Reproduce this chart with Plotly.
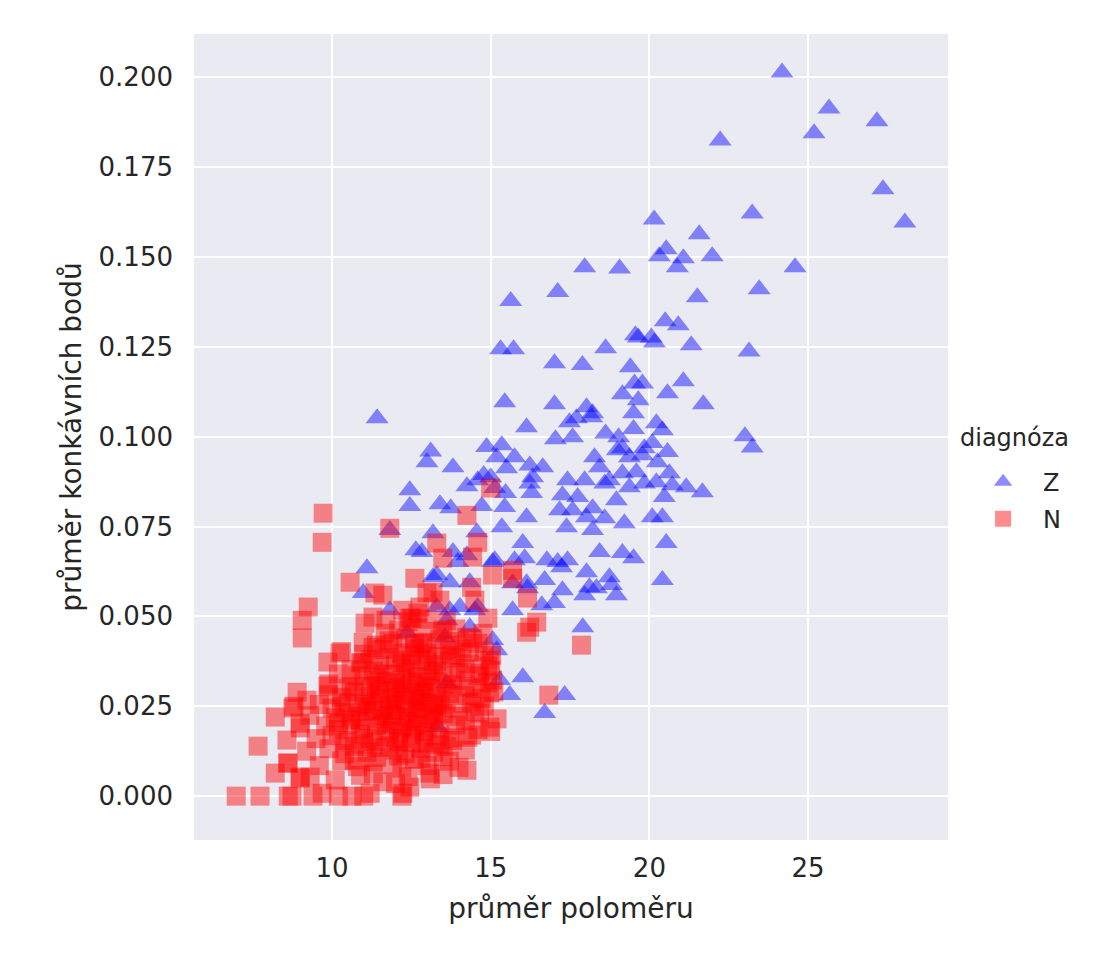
import plotly.graph_objects as go

# průměr poloměru / průměr konkávních bodů
z_points = [
    (24.18, 0.2013), (25.66, 0.1913), (25.19, 0.1844), (27.17, 0.1877), (27.36, 0.1688),
    (28.05, 0.1596), (22.23, 0.1824), (23.24, 0.1621), (24.59, 0.1471), (23.46, 0.1410),
    (23.14, 0.1237), (23.01, 0.1001), (23.24, 0.0970), (20.15, 0.1604), (21.57, 0.1563),
    (20.53, 0.1521), (20.31, 0.1502), (21.07, 0.1496), (20.88, 0.1471), (21.98, 0.1502),
    (17.96, 0.1471), (19.06, 0.1468), (21.51, 0.1388), (17.11, 0.1402), (15.63, 0.1377),
    (20.50, 0.1321), (20.91, 0.1310), (19.56, 0.1282), (19.65, 0.1276), (20.06, 0.1276),
    (20.16, 0.1262), (21.32, 0.1254), (15.31, 0.1243), (15.72, 0.1243), (18.62, 0.1246),
    (17.01, 0.1204), (17.89, 0.1199), (19.40, 0.1193), (21.07, 0.1154), (19.53, 0.1148),
    (19.78, 0.1148), (19.15, 0.1118), (20.57, 0.1121), (19.65, 0.1101), (15.44, 0.1096),
    (17.01, 0.1090), (21.70, 0.1090), (18.02, 0.1082), (19.50, 0.1065), (18.21, 0.1065),
    (16.13, 0.1026), (20.22, 0.1037), (20.41, 0.1018), (18.62, 0.1009), (19.03, 0.0998),
    (19.50, 0.1021), (17.04, 0.0993), (17.58, 0.0998), (17.48, 0.1040), (17.70, 0.1051),
    (18.18, 0.1054), (15.35, 0.0976), (15.75, 0.0943), (15.19, 0.0943), (16.23, 0.0920),
    (16.64, 0.0915), (15.50, 0.0912), (16.32, 0.0887), (16.23, 0.0870), (16.29, 0.0843),
    (17.42, 0.0879), (17.96, 0.0879), (18.27, 0.0943), (18.43, 0.0915), (18.59, 0.0870),
    (18.74, 0.0879), (18.99, 0.0962), (19.15, 0.0968), (19.37, 0.0943), (19.78, 0.0948),
    (19.84, 0.0968), (20.09, 0.0982), (20.57, 0.0957), (20.25, 0.0929), (19.15, 0.0898),
    (19.59, 0.0901), (19.37, 0.0859), (19.84, 0.0870), (20.22, 0.0873), (20.63, 0.0898),
    (20.72, 0.0865), (21.16, 0.0859), (21.67, 0.0845), (20.47, 0.0832), (17.26, 0.0837),
    (17.74, 0.0832), (18.96, 0.0823), (17.17, 0.0795), (17.58, 0.0795), (18.21, 0.0801),
    (18.02, 0.0776), (18.59, 0.0773), (16.13, 0.0776), (17.39, 0.0748), (18.21, 0.0740),
    (19.21, 0.0759), (20.09, 0.0776), (20.41, 0.0776), (15.35, 0.0748), (16.01, 0.0704),
    (20.53, 0.0704), (18.43, 0.0679), (19.15, 0.0676), (19.50, 0.0662), (16.77, 0.0656),
    (17.11, 0.0651), (17.42, 0.0656), (17.23, 0.0637), (15.13, 0.0656), (16.07, 0.0662),
    (15.75, 0.0656), (18.02, 0.0623), (18.74, 0.0609), (20.41, 0.0601), (16.70, 0.0601),
    (17.26, 0.0573), (18.11, 0.0581), (18.33, 0.0578), (18.81, 0.0587), (16.13, 0.0592),
    (17.96, 0.0559), (18.96, 0.0559), (16.61, 0.0531), (17.01, 0.0537), (15.69, 0.0517),
    (17.90, 0.0470), (15.06, 0.0434), (15.19, 0.0406), (16.01, 0.0331), (15.60, 0.0281),
    (17.33, 0.0281), (16.70, 0.0231), (11.42, 0.1051), (14.87, 0.0971), (13.11, 0.0959),
    (12.99, 0.0929), (13.81, 0.0915), (14.78, 0.0893), (14.59, 0.0879), (14.25, 0.0862),
    (15.47, 0.0843), (15.00, 0.0887), (15.13, 0.0857), (12.45, 0.0851), (12.45, 0.0807),
    (13.40, 0.0812), (13.74, 0.0801), (14.72, 0.0807), (15.44, 0.0804), (11.82, 0.0740),
    (13.18, 0.0731), (14.56, 0.0734), (12.64, 0.0684), (12.83, 0.0679), (13.81, 0.0679),
    (13.96, 0.0651), (14.25, 0.0670), (15.06, 0.0651), (11.10, 0.0634), (13.30, 0.0615),
    (13.71, 0.0595), (14.34, 0.0595), (15.69, 0.0592), (16.16, 0.0578), (10.98, 0.0565),
    (11.82, 0.0517), (13.71, 0.0517), (14.03, 0.0526), (14.59, 0.0526), (12.36, 0.0453),
    (13.55, 0.0442), (15.28, 0.0323), (13.33, 0.0192), (13.62, 0.0314), (13.18, 0.0609),
    (13.30, 0.0526), (13.62, 0.0489), (14.50, 0.0517), (14.34, 0.0470),
]

n_points = [
    # okrajové body
    (9.72, 0.0787), (9.69, 0.0706), (10.57, 0.0595), (9.25, 0.0526), (9.06, 0.0489),
    (9.06, 0.0440), (10.25, 0.0398), (9.87, 0.0373), (11.04, 0.0481), (10.98, 0.0428),
    (10.94, 0.0370), (9.87, 0.0306), (8.90, 0.0289), (8.21, 0.0220), (8.77, 0.0245),
    (7.67, 0.0139), (8.58, 0.0156), (8.99, 0.0203), (8.62, 0.0092), (8.21, 0.0064),
    (8.99, 0.0053), (6.98, 0.0), (7.73, 0.0), (8.62, 0.0), (8.74, 0.0), (9.40, 0.0),
    (9.69, 0.0008), (10.63, 0.0), (9.31, 0.0053), (9.21, 0.0267), (10.2, 0.0), (11.0, 0.0),
    (12.2, 0.0), (14.25, 0.0781), (11.82, 0.0745), (14.59, 0.0706), (13.30, 0.0704),
    (13.49, 0.0662), (14.43, 0.0665), (15.06, 0.0615), (15.69, 0.0606), (15.69, 0.0628),
    (12.61, 0.0606), (14.40, 0.0581), (13.18, 0.0567), (16.16, 0.0551), (14.50, 0.0545),
    (13.40, 0.0545), (12.71, 0.0509), (12.52, 0.0495), (14.91, 0.0495), (16.45, 0.0484),
    (16.13, 0.0456), (16.23, 0.0470), (17.86, 0.0420), (14.43, 0.0439), (12.77, 0.0414),
    (13.77, 0.0392), (14.34, 0.0400), (15.03, 0.0392), (16.83, 0.0281), (15.00, 0.0857),
    (11.35, 0.0565), (11.60, 0.0559), (12.99, 0.0565), (12.77, 0.0526), (12.23, 0.0517),
    (12.45, 0.0495), (11.29, 0.0498), (11.67, 0.0453), (11.29, 0.0414), (11.92, 0.0425),
    (12.86, 0.0425), (13.49, 0.0462), (14.25, 0.0442), (14.75, 0.0453), (14.97, 0.0378),
    (14.65, 0.0342), (15.06, 0.0323), (14.97, 0.0287), (14.65, 0.0231), (14.97, 0.0192),
    (14.28, 0.0164), (14.25, 0.0072), (13.08, 0.0064), (12.45, 0.0025), (12.23, 0.0008),
    (11.20, 0.0008),
    # hustý shluk
    (9.0, 0.0050), (10.1, 0.0045), (10.9, 0.0058), (11.6, 0.0040), (12.4, 0.0055),
    (13.1, 0.0048), (13.5, 0.0060), (12.0, 0.0035), (11.3, 0.0062),
    (8.6, 0.0092), (9.6, 0.0085), (10.3, 0.0098), (10.8, 0.0082), (11.3, 0.0095),
    (11.9, 0.0088), (12.6, 0.0102), (13.0, 0.0085), (13.7, 0.0097), (14.0, 0.0080),
    (12.2, 0.0078),
    (9.2, 0.0125), (9.9, 0.0132), (10.4, 0.0118), (10.7, 0.0138), (11.1, 0.0122),
    (11.5, 0.0135), (12.0, 0.0128), (12.3, 0.0118), (12.8, 0.0133), (13.2, 0.0122),
    (13.6, 0.0138), (14.2, 0.0128),
    (9.5, 0.0160), (10.0, 0.0168), (10.5, 0.0155), (10.9, 0.0172), (11.2, 0.0160),
    (11.7, 0.0165), (12.1, 0.0152), (12.5, 0.0170), (12.9, 0.0158), (13.3, 0.0166),
    (13.8, 0.0155), (14.4, 0.0170),
    (9.0, 0.0190), (9.8, 0.0195), (10.2, 0.0185), (10.6, 0.0200), (11.0, 0.0188),
    (11.4, 0.0197), (11.8, 0.0182), (12.2, 0.0193), (12.6, 0.0186), (13.0, 0.0201),
    (13.4, 0.0190), (13.9, 0.0198), (14.6, 0.0185), (15.0, 0.0180),
    (9.3, 0.0225), (10.1, 0.0218), (10.4, 0.0232), (10.8, 0.0222), (11.1, 0.0236),
    (11.5, 0.0215), (11.9, 0.0228), (12.3, 0.0220), (12.7, 0.0234), (13.1, 0.0217),
    (13.5, 0.0230), (14.0, 0.0222), (14.5, 0.0235), (15.2, 0.0215),
    (8.8, 0.0250), (9.6, 0.0255), (10.0, 0.0245), (10.5, 0.0260), (10.9, 0.0248),
    (11.3, 0.0258), (11.6, 0.0242), (12.0, 0.0256), (12.4, 0.0247), (12.8, 0.0262),
    (13.2, 0.0250), (13.6, 0.0244), (14.1, 0.0258), (14.8, 0.0250),
    (9.9, 0.0282), (10.3, 0.0275), (10.7, 0.0290), (11.2, 0.0278), (11.5, 0.0288),
    (11.8, 0.0272), (12.2, 0.0285), (12.6, 0.0278), (12.9, 0.0292), (13.3, 0.0276),
    (13.7, 0.0286), (14.2, 0.0280), (14.7, 0.0272), (15.1, 0.0290),
    (9.9, 0.0312), (10.6, 0.0305), (11.0, 0.0318), (11.4, 0.0308), (11.7, 0.0320),
    (12.1, 0.0302), (12.5, 0.0315), (12.9, 0.0306), (13.3, 0.0318), (13.8, 0.0310),
    (14.3, 0.0304), (14.9, 0.0315),
    (10.2, 0.0340), (10.8, 0.0335), (11.3, 0.0348), (11.9, 0.0338), (12.3, 0.0345),
    (12.7, 0.0332), (13.1, 0.0346), (13.5, 0.0336), (14.0, 0.0344), (14.6, 0.0335),
    (15.0, 0.0350),
    (10.9, 0.0372), (11.5, 0.0365), (12.0, 0.0378), (12.4, 0.0368), (12.8, 0.0380),
    (13.2, 0.0366), (13.7, 0.0375), (14.3, 0.0368), (14.9, 0.0362),
    (10.3, 0.0402), (11.0, 0.0395), (11.6, 0.0408), (12.2, 0.0398), (12.6, 0.0410),
    (13.0, 0.0396), (13.5, 0.0405), (14.1, 0.0410), (14.8, 0.0402),
    (11.8, 0.0432), (12.3, 0.0440), (12.9, 0.0428), (13.4, 0.0436), (14.0, 0.0430),
    (14.6, 0.0425),
    (12.1, 0.0462), (12.7, 0.0468), (13.3, 0.0458), (13.9, 0.0465),
    (11.7, 0.0490), (12.4, 0.0485), (13.0, 0.0492), (13.6, 0.0488),
    (11.0, 0.0145), (11.8, 0.0140), (12.5, 0.0148), (13.4, 0.0143), (10.6, 0.0212),
    (11.6, 0.0205), (12.4, 0.0208), (13.2, 0.0212), (11.1, 0.0265), (11.9, 0.0268),
    (12.7, 0.0270), (13.5, 0.0265), (11.4, 0.0330), (12.2, 0.0325), (13.0, 0.0328),
    (13.9, 0.0322), (11.8, 0.0385), (12.5, 0.0390), (13.3, 0.0388), (12.0, 0.0238),
    (12.9, 0.0240), (11.3, 0.0238), (12.1, 0.0178), (12.9, 0.0180), (11.5, 0.0295),
    (12.3, 0.0298), (13.1, 0.0300),
    (10.7, 0.0100), (11.4, 0.0108), (12.1, 0.0112), (12.8, 0.0105), (13.5, 0.0110),
    (10.4, 0.0150), (11.3, 0.0152), (12.2, 0.0160), (13.0, 0.0148), (13.7, 0.0162),
    (10.2, 0.0205), (10.9, 0.0210), (11.7, 0.0222), (12.5, 0.0215), (13.3, 0.0225),
    (14.2, 0.0210), (10.3, 0.0250), (11.0, 0.0255), (11.8, 0.0250), (12.6, 0.0245),
    (13.4, 0.0255), (14.4, 0.0262), (10.5, 0.0300), (11.2, 0.0305), (12.0, 0.0292),
    (12.8, 0.0288), (13.6, 0.0298), (14.5, 0.0300), (10.6, 0.0352), (11.6, 0.0340),
    (12.5, 0.0355), (13.3, 0.0350), (14.2, 0.0355), (11.2, 0.0380), (12.2, 0.0372),
    (13.0, 0.0375), (13.9, 0.0385), (11.4, 0.0420), (12.6, 0.0425), (13.7, 0.0420),
    (11.9, 0.0200), (12.7, 0.0198), (12.3, 0.0265), (13.0, 0.0258), (12.0, 0.0315),
    (12.7, 0.0318),
]

y_ticks = [0.0, 0.025, 0.05, 0.075, 0.1, 0.125, 0.15, 0.175, 0.2]
x_ticks = [10, 15, 20, 25]

font = "DejaVu Sans"
ink = "#262626"

fig = go.Figure()
fig.add_trace(go.Scatter(
    x=[p[0] for p in z_points], y=[p[1] for p in z_points],
    mode="markers", name="Z", legendgroup="z",
    marker=dict(symbol="triangle-up", size=20, color="blue", opacity=0.45, line=dict(width=0)),
))
fig.add_trace(go.Scatter(
    x=[p[0] for p in n_points], y=[p[1] for p in n_points],
    mode="markers", name="N", legendgroup="n",
    marker=dict(symbol="square", size=19, color="red", opacity=0.45, line=dict(width=0)),
))

# legend title as a separate label so its spacing can match
fig.add_annotation(
    text="diagnóza", xref="paper", yref="paper", x=1.013, y=0.499,
    xanchor="left", yanchor="middle", showarrow=False, font=dict(size=24, color=ink),
)

fig.update_layout(
    width=1099, height=960,
    margin=dict(l=186, r=159, t=26, b=128),
    paper_bgcolor="white", plot_bgcolor="#EAEAF2",
    font=dict(family=font, size=24, color=ink),
    legend=dict(
        x=1.02, xanchor="left", y=0.472, yanchor="top",
        font=dict(size=24), bgcolor="rgba(0,0,0,0)",
        tracegroupgap=3, itemwidth=70,
    ),
    xaxis=dict(
        range=[5.65, 29.41], tickvals=x_ticks, showgrid=True, gridcolor="white", gridwidth=2,
        zeroline=False, showline=False, ticks="", ticklabelstandoff=10,
        tickfont=dict(size=26), title=dict(text="průměr poloměru", font=dict(size=28), standoff=16),
    ),
    yaxis=dict(
        range=[-0.0122, 0.212], tickvals=y_ticks, tickformat=".3f", showgrid=True,
        gridcolor="white", gridwidth=2, zeroline=False, showline=False, ticks="",
        ticklabelstandoff=20, tickfont=dict(size=26),
        title=dict(text="průměr konkávních bodů", font=dict(size=28), standoff=8),
    ),
)

fig.write_html("out.html")
